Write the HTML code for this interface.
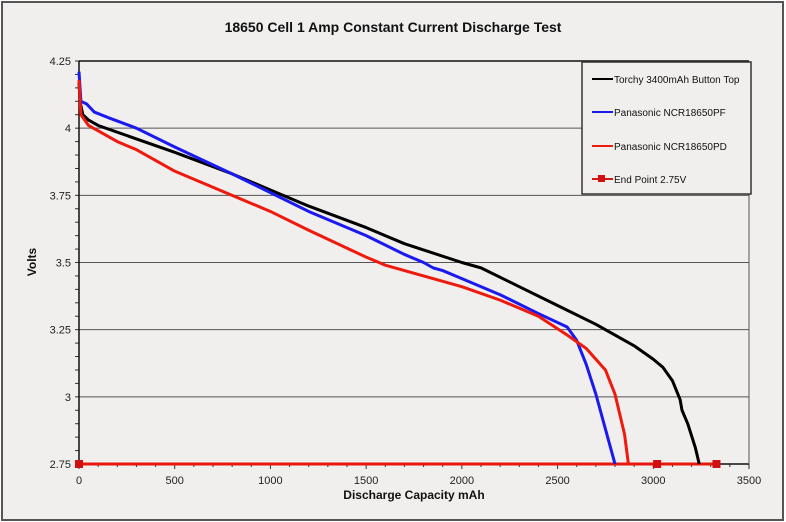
<!DOCTYPE html>
<html><head><meta charset="utf-8"><style>
body{margin:0;background:#fff}
svg{display:block;font-family:"Liberation Sans",Arial,sans-serif}
</style></head><body>
<svg id="chart" width="786" height="522" viewBox="0 0 786 522">
<rect x="2" y="2" width="781" height="518" fill="#f0efee" stroke="#555" stroke-width="2"/>
<text x="393" y="32" text-anchor="middle" font-size="14" font-weight="bold" fill="#111">18650 Cell 1 Amp Constant Current Discharge Test</text>
<text transform="translate(36,262) rotate(-90)" text-anchor="middle" font-size="12" font-weight="bold" fill="#111">Volts</text>
<text x="414" y="499" text-anchor="middle" font-size="12" font-weight="bold" fill="#111">Discharge Capacity mAh</text>
<g id="grid"></g><g id="axes"></g><g id="series"></g>
<g>
<rect x="582" y="62" width="169" height="132" fill="#f0efee" stroke="#333" stroke-width="1.5"/>
<line x1="592" y1="79" x2="613" y2="79" stroke="#000" stroke-width="2"/>
<text x="614" y="83" font-size="10" fill="#111">Torchy 3400mAh Button Top</text>
<line x1="592" y1="112" x2="613" y2="112" stroke="#1a1aee" stroke-width="2"/>
<text x="614" y="116" font-size="10" fill="#111">Panasonic NCR18650PF</text>
<line x1="592" y1="146" x2="613" y2="146" stroke="#ee1a0e" stroke-width="2"/>
<text x="614" y="150" font-size="10" fill="#111">Panasonic NCR18650PD</text>
<line x1="592" y1="179" x2="613" y2="179" stroke="#cc1a10" stroke-width="2"/>
<rect x="598" y="175" width="7" height="7" fill="#d01010"/>
<text x="614" y="183" font-size="10" fill="#111">End Point 2.75V</text>
</g>
</svg>
<script>
const xTicks=[0,500,1000,1500,2000,2500,3000,3500];
const yTicks=[2.75,3,3.25,3.5,3.75,4,4.25];
const torchyX=[0,5,20,50,100,300,500,800,1000,1200,1500,1700,2000,2100,2300,2500,2700,2900,3000,3050,3100,3140,3150,3180,3220,3240];
const torchyV=[4.17,4.10,4.05,4.03,4.01,3.96,3.91,3.83,3.77,3.71,3.63,3.57,3.50,3.48,3.41,3.34,3.27,3.19,3.14,3.11,3.06,2.99,2.95,2.90,2.81,2.75];
const pfX=[0,10,40,80,150,300,500,800,1000,1200,1500,1700,1800,1850,1900,2000,2200,2400,2550,2600,2650,2700,2750,2800];
const pfV=[4.21,4.10,4.09,4.06,4.04,4.00,3.93,3.83,3.76,3.69,3.60,3.53,3.50,3.48,3.47,3.44,3.38,3.31,3.26,3.21,3.12,3.01,2.88,2.75];
const pdX=[0,10,50,100,200,300,500,800,1000,1200,1500,1600,1800,2000,2200,2400,2550,2650,2750,2800,2850,2870];
const pdV=[4.18,4.05,4.01,3.99,3.95,3.92,3.84,3.75,3.69,3.62,3.52,3.49,3.45,3.41,3.36,3.30,3.23,3.18,3.10,3.01,2.86,2.75];
const endX=[0,3020,3330];
const endV=[2.75,2.75,2.75];
const X0=79,X1=749,Y0=464,Y1=61;
const sx=v=>X0+(v/3500)*(X1-X0);
const sy=v=>Y0-(v-2.75)/1.5*(Y0-Y1);
const NS="http://www.w3.org/2000/svg";
function mk(tag,attrs,parent){const e=document.createElementNS(NS,tag);for(const k in attrs)e.setAttribute(k,attrs[k]);document.getElementById(parent).appendChild(e);return e;}
yTicks.forEach(v=>{
 if(v>2.75){const g=mk('line',{x1:X0,x2:X1,y1:sy(v),y2:sy(v),stroke:v===4.25?'#111':'#555','stroke-width':v===4.25?1.5:1},'grid');
 
 }
 const t=mk('text',{x:X0-8,y:sy(v)+4,'text-anchor':'end','font-size':11,fill:'#222'},'axes');t.textContent=v;
 
 
});
for(let v=2.75;v<=4.2501;v+=0.05){mk('line',{x1:X0-4,x2:X0,y1:sy(v),y2:sy(v),stroke:'#333','stroke-width':1},'axes');}
for(let v=0;v<=3500;v+=100){mk('line',{x1:sx(v),x2:sx(v),y1:Y0,y2:Y0+(v%500===0?5:3),stroke:'#333','stroke-width':1},'axes');}
xTicks.forEach(v=>{const t=mk('text',{x:sx(v),y:Y0+20,'text-anchor':'middle','font-size':11,fill:'#222'},'axes');t.textContent=v;
 
 });
const ya=mk('line',{x1:X0,x2:X0,y1:Y1,y2:Y0,stroke:'#111','stroke-width':1.5},'axes');


const xa=mk('line',{x1:X0,x2:X1,y1:Y0,y2:Y0,stroke:'#111','stroke-width':1.5},'axes');


mk('line',{x1:X1,x2:X1,y1:Y1,y2:Y0,stroke:'#555','stroke-width':1},'axes');
function line(xs,vs,color,name){const p=mk('polyline',{points:xs.map((x,i)=>sx(x)+','+sy(vs[i])).join(' '),fill:'none',stroke:color,'stroke-width':3,'stroke-linejoin':'round'},'series');
 
 }
line(endX,endV,'#e8180c','end-point-line');
line(torchyX,torchyV,'#000','torchy-line');
line(pfX,pfV,'#1a1aee','ncr18650pf-line');
line(pdX,pdV,'#ee1a0e','ncr18650pd-line');
endX.forEach((x,i)=>{const r=mk('rect',{x:sx(x)-4,y:sy(endV[i])-4,width:8,height:8,fill:'#d01010'},'series');
 
 });
</script>
</body></html>
